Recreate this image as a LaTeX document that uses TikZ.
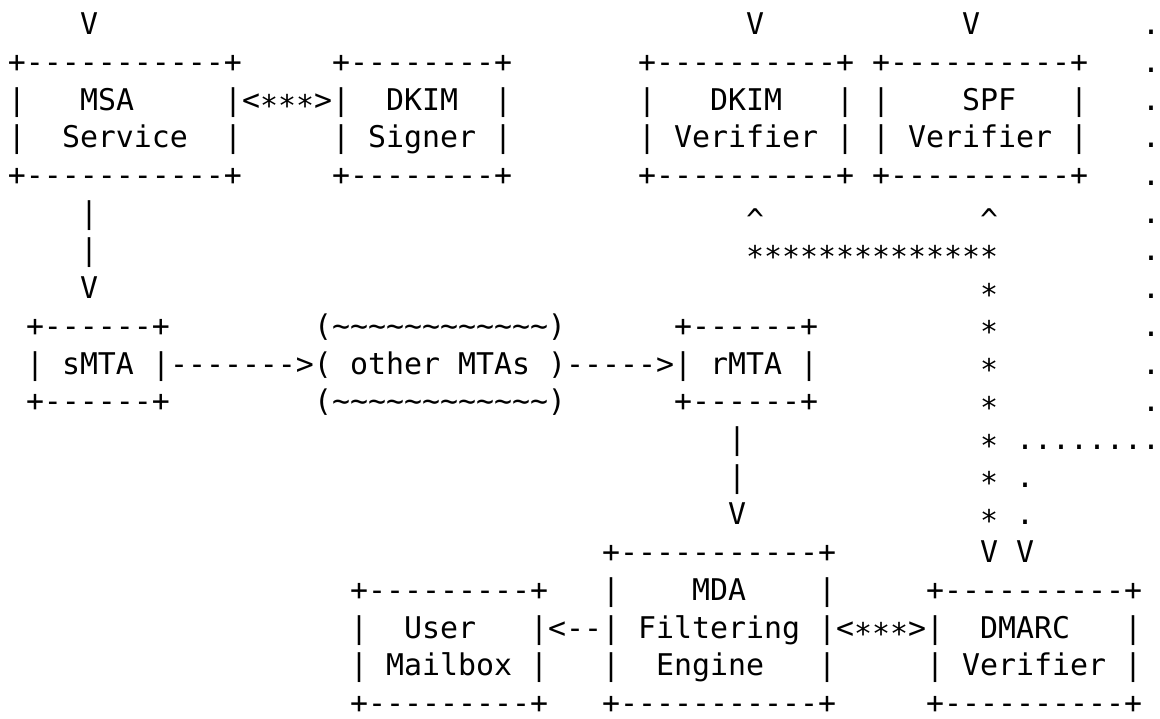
\documentclass[tikz,border=0pt]{standalone}
\usepackage{fontspec}
\setmonofont{DejaVu Sans Mono}
\newcommand\stc{\makebox[18pt][c]{\raisebox{-0.22em}{*}}}
\newcommand\crt{\makebox[18pt][c]{\raisebox{-0.25em}{\textasciicircum}}}
\newcommand\tl{\textasciitilde}
\tikzset{asc/.style={anchor=base west, inner sep=0pt, outer sep=0pt, text=black,
  font=\ttfamily\fontsize{29.9}{36}\selectfont}}
\newcommand\T[3]{\node[asc] (n-#1-#2) at ({(8+18*#2)*1pt},{-(34.8+37.7*(#1-1))*1pt}) {#3};}
\begin{document}
\begin{tikzpicture}
\fill[white] (0,0) rectangle (1160pt,-719pt);
\useasboundingbox (0,0) rectangle (1160pt,-719pt);
% row 1
\T{1}{4}{V} \T{1}{41}{V} \T{1}{53}{V} \T{1}{63}{.}
% row 2
\T{2}{0}{+-----------+} \T{2}{18}{+--------+} \T{2}{35}{+----------+} \T{2}{48}{+----------+} \T{2}{63}{.}
% row 3
\T{3}{0}{|} \T{3}{4}{MSA} \T{3}{12}{|<\stc\stc\stc>|} \T{3}{21}{DKIM} \T{3}{27}{|}
\T{3}{35}{|} \T{3}{39}{DKIM} \T{3}{46}{|} \T{3}{48}{|} \T{3}{53}{SPF} \T{3}{59}{|} \T{3}{63}{.}
% row 4
\T{4}{0}{|} \T{4}{3}{Service} \T{4}{12}{|} \T{4}{18}{|} \T{4}{20}{Signer} \T{4}{27}{|}
\T{4}{35}{|} \T{4}{37}{Verifier} \T{4}{46}{|} \T{4}{48}{|} \T{4}{50}{Verifier} \T{4}{59}{|} \T{4}{63}{.}
% row 5
\T{5}{0}{+-----------+} \T{5}{18}{+--------+} \T{5}{35}{+----------+} \T{5}{48}{+----------+} \T{5}{63}{.}
% row 6
\T{6}{4}{|} \T{6}{41}{\crt} \T{6}{54}{\crt} \T{6}{63}{.}
% row 7
\T{7}{4}{|} \T{7}{41}{\stc\stc\stc\stc\stc\stc\stc\stc\stc\stc\stc\stc\stc\stc} \T{7}{63}{.}
% row 8
\T{8}{4}{V} \T{8}{54}{\stc} \T{8}{63}{.}
% row 9
\T{9}{1}{+------+} \T{9}{17}{(\tl\tl\tl\tl\tl\tl\tl\tl\tl\tl\tl\tl)} \T{9}{37}{+------+} \T{9}{54}{\stc} \T{9}{63}{.}
% row 10
\T{10}{1}{|} \T{10}{3}{sMTA} \T{10}{8}{|------->(} \T{10}{19}{other} \T{10}{25}{MTAs} \T{10}{30}{)----->|}
\T{10}{39}{rMTA} \T{10}{44}{|} \T{10}{54}{\stc} \T{10}{63}{.}
% row 11
\T{11}{1}{+------+} \T{11}{17}{(\tl\tl\tl\tl\tl\tl\tl\tl\tl\tl\tl\tl)} \T{11}{37}{+------+} \T{11}{54}{\stc} \T{11}{63}{.}
% row 12
\T{12}{40}{|} \T{12}{54}{\stc} \T{12}{56}{........}
% row 13
\T{13}{40}{|} \T{13}{54}{\stc} \T{13}{56}{.}
% row 14
\T{14}{40}{V} \T{14}{54}{\stc} \T{14}{56}{.}
% row 15
\T{15}{33}{+-----------+} \T{15}{54}{V} \T{15}{56}{V}
% row 16
\T{16}{19}{+---------+} \T{16}{33}{|} \T{16}{38}{MDA} \T{16}{45}{|} \T{16}{51}{+----------+}
% row 17
\T{17}{19}{|} \T{17}{22}{User} \T{17}{29}{|<--|} \T{17}{35}{Filtering} \T{17}{45}{|<\stc\stc\stc>|} \T{17}{54}{DMARC} \T{17}{62}{|}
% row 18
\T{18}{19}{|} \T{18}{21}{Mailbox} \T{18}{29}{|} \T{18}{33}{|} \T{18}{36}{Engine} \T{18}{45}{|}
\T{18}{51}{|} \T{18}{53}{Verifier} \T{18}{62}{|}
% row 19
\T{19}{19}{+---------+} \T{19}{33}{+-----------+} \T{19}{51}{+----------+}
\end{tikzpicture}
\end{document}
